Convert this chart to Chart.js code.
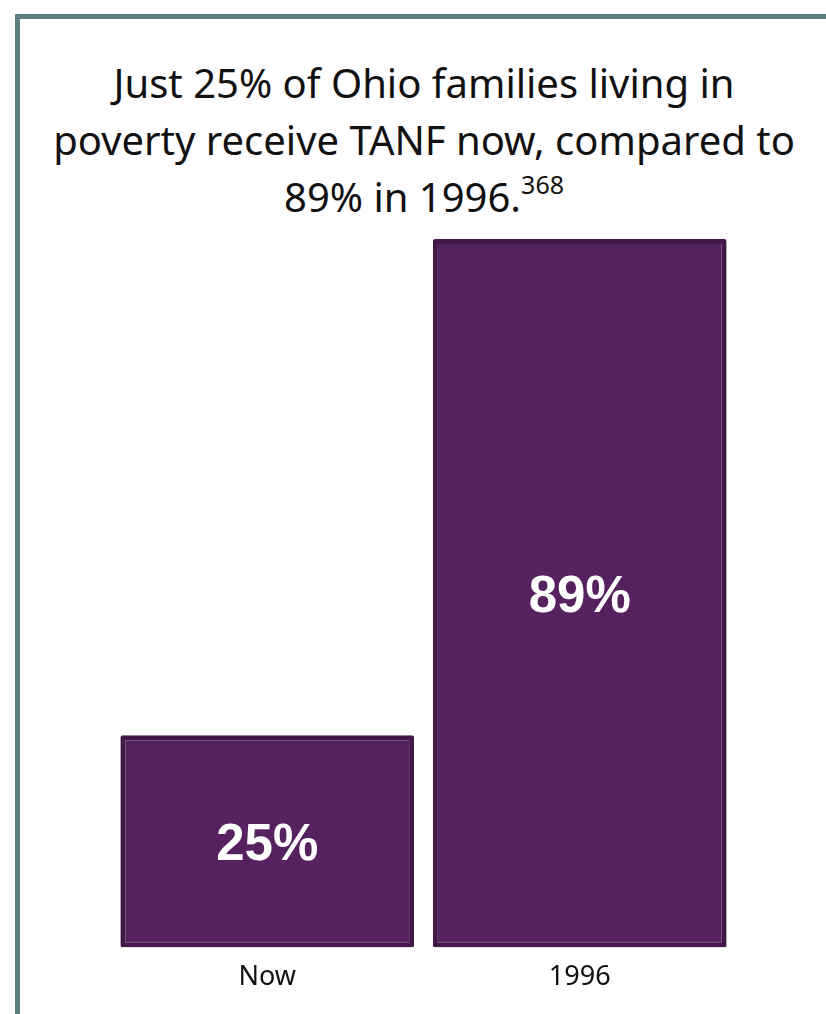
<!DOCTYPE html>
<html>
<head>
<meta charset="utf-8">
<script src="https://cdn.jsdelivr.net/npm/chart.js@4"></script>
<style>
  html, body { margin: 0; padding: 0; background: #fff; }
  #wrap { position: relative; width: 826px; height: 1014px; overflow: hidden; }
  #frame {
    position: absolute; left: 15px; top: 14px; width: 900px; height: 1100px;
    border-left: 5px solid #5e7e81; border-top: 5px solid #5e7e81;
  }
  #title {
    position: absolute; left: 0; top: 54px; width: 848px; text-align: center;
    font-family: "Noto Sans", sans-serif; font-size: 40px; line-height: 57px; color: #111;
  }
  #title sup { font-size: 25px; vertical-align: 0; position: relative; top: -18px; }
  canvas { position: absolute; left: 0; top: 0; }
</style>
</head>
<body>
<div id="wrap">
  <div id="frame"></div>
  <div id="title">Just 25% of Ohio families living in<br>poverty receive TANF now, compared to<br>89% in 1996.<sup>368</sup></div>
  <canvas id="chart" width="826" height="1014"></canvas>
</div>
<script>
  // values
  var CATEGORIES = ['Now', '1996'];
  var VALUES = [25, 89];
  var VALUE_LABELS = ['25%', '89%'];
  var Y_MIN = -2.4;
  var Y_MAX = 89;

  var PURPLE = '#55225f';
  var PURPLE_EDGE = '#431848';

  /* white value labels centred inside each bar */
  var barLabels = {
    id: 'barLabels',
    afterDatasetsDraw: function (chart) {
      var ctx = chart.ctx;
      var meta = chart.getDatasetMeta(0);
      ctx.save();
      ctx.fillStyle = '#fff';
      ctx.font = 'bold 51px "Liberation Sans", Arial, sans-serif';
      ctx.textAlign = 'center';
      ctx.textBaseline = 'middle';
      meta.data.forEach(function (bar, i) {
        var mid = (bar.y + bar.base) / 2;
        ctx.fillText(VALUE_LABELS[i], bar.x, mid + 5);
      });
      ctx.restore();
    }
  };

  new Chart(document.getElementById('chart').getContext('2d'), {
    type: 'bar',
    data: {
      labels: CATEGORIES,
      datasets: [{
        data: VALUES,
        base: Y_MIN,
        backgroundColor: PURPLE,
        borderColor: PURPLE_EDGE,
        borderWidth: 5,
        borderRadius: 2,
        borderSkipped: false,
        barPercentage: 0.94,
        categoryPercentage: 1
      }]
    },
    options: {
      responsive: false,
      animation: false,
      layout: { padding: { left: 111, right: 90, top: 239, bottom: 14 } },
      plugins: {
        legend: { display: false },
        tooltip: { enabled: false }
      },
      scales: {
        x: {
          grid: { display: false },
          border: { display: false },
          ticks: {
            color: '#111',
            padding: 6,
            font: { family: '"Noto Sans", sans-serif', size: 27 }
          }
        },
        y: { display: false, min: Y_MIN, max: Y_MAX }
      }
    },
    plugins: [barLabels]
  });
</script>
</body>
</html>
